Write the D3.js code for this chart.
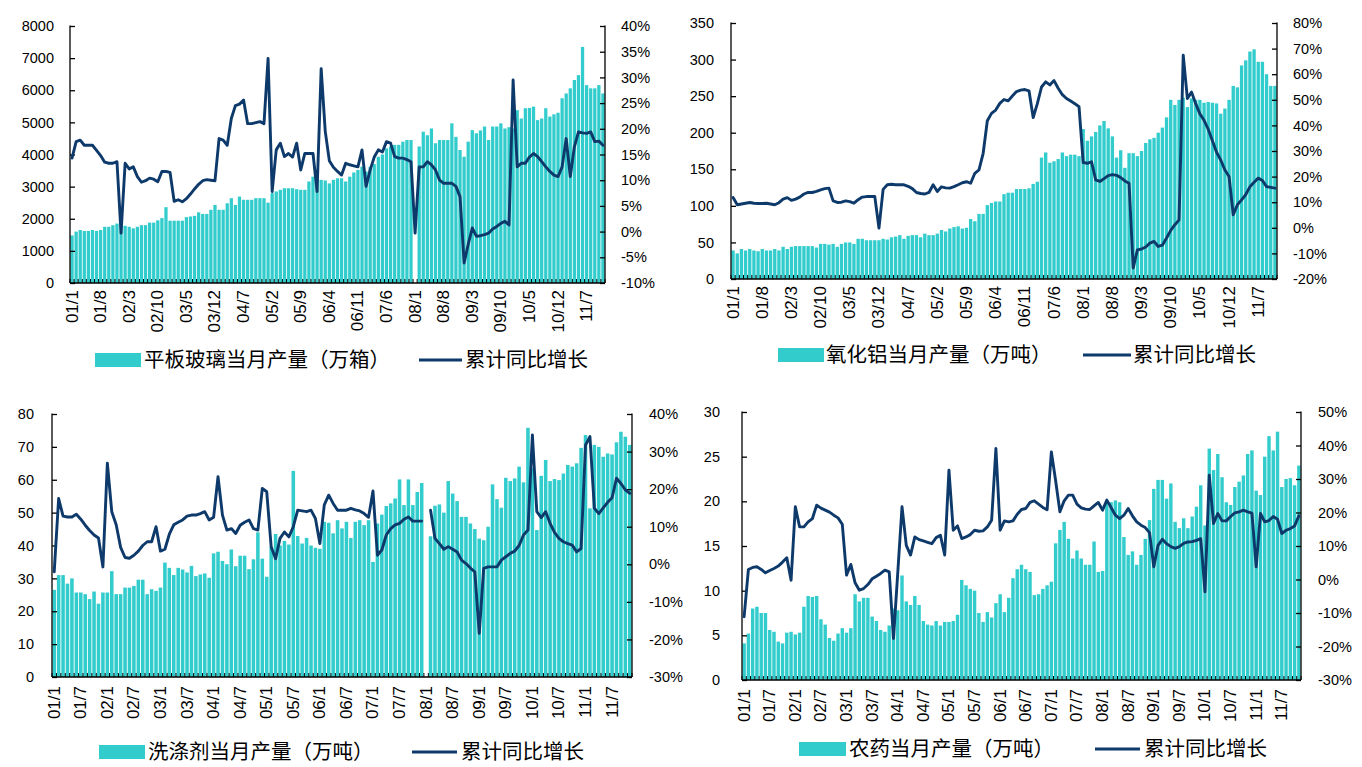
<!DOCTYPE html>
<html><head><meta charset="utf-8">
<script src="https://cdn.jsdelivr.net/npm/d3@7"></script>
<style>
body{margin:0;background:#fff;}
svg text{font-family:"Liberation Sans",Arial,sans-serif;fill:#000;}
svg text.cjk{font-family:"Noto Sans CJK SC",sans-serif;}
</style></head><body>
<svg id="c" width="1362" height="767"></svg>
<script>
// ---------- categories & tick labels ----------
const N = 131; // 2001/1 .. 2011/11
const categories = [];
for (let k = 0; k < N; k++) {
  const yy = 1 + Math.floor(k / 12), mm = (k % 12) + 1;
  categories.push(String(yy).padStart(2, '0') + '/' + mm);
}
const ticks7 = ["01/1","01/8","02/3","02/10","03/5","03/12","04/7","05/2","05/9","06/4","06/11","07/6","08/1","08/8","09/3","09/10","10/5","10/12","11/7"];
const ticks6 = ["01/1","01/7","02/1","02/7","03/1","03/7","04/1","04/7","05/1","05/7","06/1","06/7","07/1","07/7","08/1","08/7","09/1","09/7","10/1","10/7","11/1","11/7"];

// ---------- 平板玻璃 ----------
const glassBars = [1480,1600,1650,1620,1620,1650,1620,1650,1750,1750,
 1800,1850,1800,1780,1750,1700,1750,1800,1800,1880,
 1880,1950,2020,2360,1940,1940,1940,1940,2050,2070,
 2090,2200,2150,2150,2280,2430,2280,2280,2480,2640,
 2430,2690,2590,2590,2590,2640,2640,2640,2500,2800,
 2850,2900,2950,2950,2950,2920,2900,2900,3160,3310,
 3520,3210,3190,3100,3210,3260,3260,3160,3310,3440,
 3520,3620,3470,3620,3700,3930,4000,4190,4250,4300,
 4300,4400,4450,4450,null,4250,4710,4600,4810,4350,
 4450,4450,4450,4970,4550,4140,3930,4400,4760,4660,
 4750,4870,4450,4870,4870,4970,4810,4850,4810,5380,
 5120,5440,5450,5490,5070,5120,5440,5180,5250,5300,
 5750,5900,6060,6320,6470,7350,6160,6060,6060,6160,5900];
const glassYoY = [14.3,17.5,17.8,16.8,16.8,16.8,15.8,14.8,13.5,13.3,
 13.3,13.6,-0.3,13.3,12.2,12.6,10.7,9.6,9.9,10.4,
 10.2,9.7,11.7,11.7,11.5,5.9,6.2,5.8,6.4,7.3,
 8.3,9.2,9.9,10.1,10.0,9.9,18.1,17.8,16.8,22.0,
 24.5,24.8,25.6,21.0,21.0,21.2,21.4,21.0,33.7,7.8,
 15.9,17.2,14.6,15.2,14.5,17.2,12.0,15.2,15.2,15.2,
 7.8,31.7,19.5,13.8,12.5,11.7,11.0,13.3,13.0,12.8,
 12.6,15.9,8.8,12.0,14.5,15.9,15.5,17.5,17.2,14.6,
 14.3,14.3,14.0,13.6,-0.3,12.6,12.6,13.6,13.0,12.0,
 10.0,9.4,9.4,9.4,8.8,6.8,-6.1,-2.5,0.7,-0.9,
 -0.8,-0.6,-0.3,0.5,1.0,1.6,2.0,1.3,29.5,12.6,
 13.3,13.3,14.5,15.2,14.6,13.6,12.6,11.7,11.0,10.7,
 12.6,18.1,10.7,16.5,19.4,19.2,19.1,19.4,17.5,17.6,16.8];

// ---------- 氧化铝 ----------
const aluminaBars = [39,35,41,39,41,39,38,41,39,39,
 41,39,44,41,44,45,45,45,45,45,
 43,48,48,47,48,44,48,50,50,48,
 55,55,53,53,53,53,55,54,57,58,
 60,55,59,60,60,57,62,60,60,62,
 67,65,69,71,72,69,70,82,79,89,
 89,101,104,106,106,116,118,118,123,123,
 123,124,130,133,166,173,159,161,164,173,
 168,170,170,168,205,189,195,201,210,216,
 206,195,166,176,152,172,172,168,175,186,
 191,193,200,207,221,245,238,245,248,235,
 247,245,245,241,242,241,240,226,233,245,
 264,262,292,299,311,314,297,297,280,264,264];
const aluminaYoY = [11.8,9.0,9.3,9.6,9.9,9.6,9.5,9.5,9.6,9.3,
 9.0,9.8,11.2,11.8,10.7,11.2,12.0,13.2,13.8,13.8,
 14.2,14.8,15.3,15.5,10.5,9.9,10.0,10.5,10.2,9.6,
 11.0,12.0,12.2,12.2,12.2,-0.1,15.0,16.8,17.0,16.8,
 16.8,16.8,16.2,15.3,13.8,13.4,13.2,13.8,16.8,14.2,
 16.0,15.6,15.5,16.1,16.8,17.6,18.0,17.4,21.3,22.6,
 29.1,41.8,44.7,46.0,48.6,50.1,49.6,51.5,53.2,53.8,
 54.0,53.5,43.1,48.5,55.0,57.0,55.8,57.5,54.5,52.0,
 50.5,49.5,48.5,47.3,25.5,25.2,25.8,18.7,18.1,19.2,
 20.4,20.8,20.5,19.6,18.3,17.4,-15.7,-8.6,-8.3,-7.5,
 -6.0,-5.3,-7.3,-6.8,-4.0,-1.0,1.2,3.1,67.4,50.5,
 53.0,48.5,44.5,42.0,38.5,34.0,29.5,26.5,22.6,20.0,
 5.1,9.0,10.9,13.0,16.0,17.8,19.4,18.5,16.1,15.8,15.5];

// ---------- 洗涤剂 ----------
const detergentBars = [26.5,31,31,28.4,30,25.7,25.7,25.2,23.7,26,
 22.3,25.7,25.7,32.2,25.2,25.2,27.2,27.2,27.7,29.6,
 29.6,25.2,26.7,26.2,27.2,34.8,33.2,31,33.2,32.7,
 31.8,33.8,30.7,31.2,31.5,30.2,37.6,38.1,35.3,34.3,
 38.8,33.7,36.9,36.9,32.8,35.8,44,36,30.5,39.6,
 43.5,40,41.4,40.3,62.7,42.9,40.6,42.3,40,39.3,
 39,47.2,46.9,43.7,47.7,45.2,47.2,42.3,47.2,47.7,
 46.2,47.7,35,46.7,49.4,52,52.8,54.3,60.1,52.3,
 60.1,52.3,56.3,59,null,42.8,52.1,52.5,50,59.6,
 55.8,53.5,48.7,48.7,46.7,45,42.1,41.6,45.7,58.6,
 54.1,51.5,60.6,59.6,60.4,64,59.2,75.8,63.5,44.7,
 61.2,66,59.6,60.2,59.9,61.9,64.5,64,65,69.7,
 73.6,51.3,70.6,70,67,68,67.7,71.4,74.6,73.1,70.6];
const detergentYoY = [-2,17.5,12.8,12.6,12.6,13.3,12.0,10.4,9.0,7.8,
 7.0,-0.7,26.9,14.0,10.5,4.5,1.8,1.6,2.4,3.5,
 5.0,6.0,6.0,10.0,3.5,4.0,8.0,10.5,11.2,11.8,
 12.8,13.1,13.1,13.5,14.0,11.8,12.5,23.3,13.1,9.1,
 9.5,8.2,10.4,11.2,11.8,9.5,9.1,20.2,19.3,4.7,
 1.5,6.9,8.6,7.3,10.0,14.4,14.2,14.0,14.4,12.2,
 5.5,15.8,18.4,16.2,14.4,14.4,14.4,14.9,14.5,14.2,
 13.5,12.5,19.5,2.4,3.8,7.8,9.5,10.5,10.9,12.0,
 12.6,11.5,11.5,11.5,null,14.4,6.9,5.5,4.0,4.7,
 4.0,3.3,1.1,0.2,-1.0,-2.0,-18.4,-1.1,-0.7,-0.7,
 -0.7,1.1,2.0,2.9,3.5,5.0,7.8,9.1,34.4,14.0,
 12.4,14.0,10.9,8.5,6.9,6.0,5.5,5.1,3.3,4.2,
 31.7,34.0,14.9,13.5,15.0,16.5,17.7,22.9,21.5,19.8,18.9];

// ---------- 农药 ----------
const pesticideBars = [4.1,5.2,8.0,8.2,7.5,7.5,5.6,5.4,4.3,4.1,
 5.3,5.4,5.1,5.3,8.2,9.4,9.3,9.4,6.8,6.2,
 4.7,4.4,5.2,5.8,5.3,5.8,9.6,8.8,9.2,9.2,
 7.1,6.6,5.6,5.4,6.1,8.0,7.8,11.7,8.8,8.4,
 9.4,8.4,6.6,6.2,6.1,6.6,6.1,6.5,6.5,6.6,
 7.3,11.2,10.6,10.2,10.0,7.5,6.5,7.6,7.0,8.6,
 9.6,7.6,9.2,11.4,12.4,12.9,12.4,12.1,9.5,9.6,
 10.2,10.6,11.0,15.3,16.8,17.7,15.8,13.6,14.5,13.6,
 12.9,12.9,15.5,12.1,12.2,19.9,19.9,20.1,19.9,16.0,
 14.0,14.4,12.9,14.0,15.8,17.9,21.4,22.4,22.4,20.3,
 22.0,17.7,17.0,18.1,17.0,18.3,19.4,21.8,17.3,25.9,
 23.5,25.3,22.7,19.9,19.6,21.6,22.2,22.9,25.3,25.7,
 21.2,20.7,25.0,27.3,25.7,27.8,21.6,22.5,22.6,21.8,24.0];
const pesticideYoY = [-11.1,3.0,3.6,3.8,3.0,2.0,2.7,3.3,4.0,5.2,
 6.5,-0.2,21.7,15.7,15.7,17.2,18.2,22.2,21.3,20.7,
 20.1,19.2,18.4,16.5,1.3,4.5,-1.0,-3.2,-2.7,-1.5,
 0.2,1.0,1.8,2.8,2.3,-17.6,2.0,21.7,10.2,7.3,
 12.7,11.9,11.5,11.1,10.7,12.5,13.2,7.3,32.6,14.7,
 16.0,12.2,12.7,13.4,14.7,14.4,14.5,15.7,17.7,39.1,
 14.7,17.5,17.2,17.5,19.5,20.9,21.2,23.0,23.5,22.5,
 21.5,20.8,38.1,29.5,20.2,23.5,25.2,25.2,22.5,21.4,
 21.0,20.9,22.0,23.0,20.7,23.7,21.5,19.2,18.2,19.2,
 21.2,19.0,17.2,16.2,15.5,14.0,3.8,10.2,12.0,10.7,
 9.8,9.3,9.8,10.8,11.2,11.3,11.7,12.2,-3.7,31.1,
 16.7,19.7,17.5,17.5,18.8,19.9,20.2,20.7,20.2,19.8,
 3.8,19.7,17.2,17.6,18.8,18.0,13.7,14.7,15.2,16.0,19.0];

// ---------- layout ----------
const BAR = "#33CCCC", LINE = "#0D3A6B";
const panels = [
  {bars: glassBars, yoy: glassYoY, ticks: ticks7, name: "平板玻璃当月产量（万箱）",
   x0: 70, x1: 605, y0: 26, y1: 283, lmax: 8000, lstep: 1000, rmin: -10, rmax: 40, rstep: 5,
   padL: 16, padR: 16, xlabY: 290, legY: 360, rect: [95, 141], t1: 144, ln: [419, 462], t2: 465},
  {bars: aluminaBars, yoy: aluminaYoY, ticks: ticks7, name: "氧化铝当月产量（万吨）",
   x0: 731, x1: 1277, y0: 23, y1: 279, lmax: 350, lstep: 50, rmin: -20, rmax: 80, rstep: 10,
   padL: 17, padR: 16, xlabY: 286, legY: 355, rect: [778, 824], t1: 826, ln: [1083, 1131], t2: 1133},
  {bars: detergentBars, yoy: detergentYoY, ticks: ticks6, name: "洗涤剂当月产量（万吨）",
   x0: 52, x1: 632, y0: 414, y1: 677, lmax: 80, lstep: 10, rmin: -30, rmax: 40, rstep: 10,
   padL: 18, padR: 17, xlabY: 686, legY: 752, rect: [99, 145], t1: 148, ln: [412, 457], t2: 461},
  {bars: pesticideBars, yoy: pesticideYoY, ticks: ticks6, name: "农药当月产量（万吨）",
   x0: 742, x1: 1301, y0: 412, y1: 680, lmax: 30, lstep: 5, rmin: -30, rmax: 50, rstep: 10,
   padL: 22, padR: 17, xlabY: 689, legY: 749, rect: [799, 846], t1: 849, ln: [1095, 1140], t2: 1144}
];

const svg = d3.select("#c");

panels.forEach(p => {
  const g = svg.append("g");
  const x = d3.scaleBand().domain(categories).range([p.x0, p.x1]).paddingInner(0.2).paddingOuter(0.1);
  const step = x.step();
  const bw = x.bandwidth();
  const yL = d3.scaleLinear().domain([0, p.lmax]).range([p.y1, p.y0]);
  const yR = d3.scaleLinear().domain([p.rmin, p.rmax]).range([p.y1, p.y0]);

  const rows = categories.map((c, i) => ({c, b: p.bars[i], v: p.yoy[i]}));

  // bars
  g.append("g").selectAll("rect").data(rows.filter(d => d.b != null)).join("rect")
    .attr("x", d => x(d.c)).attr("width", bw)
    .attr("y", d => yL(d.b)).attr("height", d => yL(0) - yL(d.b))
    .attr("fill", BAR);

  // axes
  const lt = d3.range(0, p.lmax + 0.001, p.lstep);
  const axL = d3.axisLeft(yL).tickValues(lt).tickSizeInner(-5).tickSizeOuter(0).tickPadding(p.padL)
    .tickFormat(d3.format("d"));
  const gl = g.append("g").attr("transform", `translate(${p.x0},0)`).call(axL);
  const rt = d3.range(p.rmin, p.rmax + 0.001, p.rstep);
  const axR = d3.axisRight(yR).tickValues(rt).tickSizeInner(-5).tickSizeOuter(0).tickPadding(p.padR)
    .tickFormat(d => d + "%");
  const gr = g.append("g").attr("transform", `translate(${p.x1},0)`).call(axR);
  [gl, gr].forEach(a => {
    a.select(".domain").attr("stroke", "#000").attr("stroke-width", 1.3);
    a.selectAll(".tick line").attr("stroke", "#000").attr("stroke-width", 1.3);
    a.selectAll("text").attr("font-size", 14.5).attr("fill", "#000")
      .attr("font-family", "'Liberation Sans',Arial,sans-serif");
  });
  gl.select(".domain").attr("d", `M0,${p.y0 - 0.5}V${p.y1}`);
  gr.select(".domain").attr("d", `M0,${p.y0 - 0.5}V${p.y1}`);

  // bottom axis with category tick marks
  g.append("line").attr("x1", p.x0).attr("x2", p.x1).attr("y1", p.y1).attr("y2", p.y1)
    .attr("stroke", "#000").attr("stroke-width", 1.5);
  g.append("g").selectAll("line").data(d3.range(N + 1)).join("line")
    .attr("x1", k => p.x0 + k * step).attr("x2", k => p.x0 + k * step)
    .attr("y1", p.y1).attr("y2", p.y1 - 4)
    .attr("stroke", "#000").attr("stroke-width", 1);

  // x labels
  g.append("g").selectAll("text").data(p.ticks).join("text")
    .attr("transform", d => `translate(${x(d) + bw / 2 + 5.5},${p.xlabY}) rotate(-90)`)
    .attr("text-anchor", "end").attr("font-size", 17).text(d => d);

  // line
  const line = d3.line().defined(d => d.v != null)
    .x(d => x(d.c) + bw / 2).y(d => yR(d.v));
  g.append("path").datum(rows).attr("d", line)
    .attr("fill", "none").attr("stroke", LINE).attr("stroke-width", 2.9)
    .attr("stroke-linejoin", "round").attr("stroke-linecap", "round");

  // legend
  g.append("rect").attr("x", p.rect[0]).attr("y", p.legY - 7).attr("width", p.rect[1] - p.rect[0])
    .attr("height", 14).attr("fill", BAR);
  g.append("text").attr("class", "cjk").attr("x", p.t1).attr("y", p.legY).attr("dy", "0.36em")
    .attr("font-size", 20.5).text(p.name);
  g.append("line").attr("x1", p.ln[0]).attr("x2", p.ln[1]).attr("y1", p.legY).attr("y2", p.legY)
    .attr("stroke", LINE).attr("stroke-width", 3);
  g.append("text").attr("class", "cjk").attr("x", p.t2).attr("y", p.legY).attr("dy", "0.36em")
    .attr("font-size", 20.5).text("累计同比增长");
});
</script>
</body></html>
